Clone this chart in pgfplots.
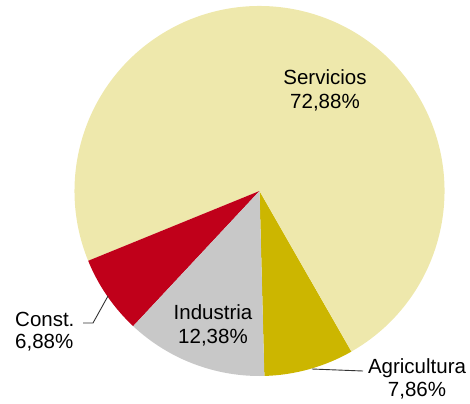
\documentclass[border=0pt]{standalone}
\usepackage{pgfplots}
\usepackage{pgfplotstable}
\pgfplotsset{compat=1.18}
\usepackage{fontspec}
\setmainfont{Liberation Sans}
\definecolor{cServ}{RGB}{238,232,172}
\definecolor{cAgri}{RGB}{204,182,0}
\definecolor{cCons}{RGB}{192,0,26}
\definecolor{cInd}{RGB}{200,200,200}
\pgfplotstableread{
label pct
Agricultura 7.86
Servicios 72.88
Const 6.88
Industria 12.38
}\piedata
\pgfplotstablegetelem{0}{pct}\of\piedata \let\pA\pgfplotsretval
\pgfplotstablegetelem{1}{pct}\of\piedata \let\pB\pgfplotsretval
\pgfplotstablegetelem{2}{pct}\of\piedata \let\pC\pgfplotsretval
\pgfplotstablegetelem{3}{pct}\of\piedata \let\pD\pgfplotsretval
\pgfmathsetmacro\aA{-88.5}
\pgfmathsetmacro\aB{\aA+3.6*\pA}
\pgfmathsetmacro\aC{\aB+3.6*\pB}
\pgfmathsetmacro\aD{\aC+3.6*\pC}
\pgfmathsetmacro\aE{\aD+3.6*\pD}
\newcommand\lbl{\fontsize{20.5bp}{24bp}\selectfont}
\begin{document}
\begin{tikzpicture}
\begin{axis}[x=1bp,y=1bp,xmin=0,xmax=470,ymin=0,ymax=403,
  hide axis,scale only axis,clip=false]
\coordinate (bbA) at (axis cs:0,0);
\coordinate (bbB) at (axis cs:470,403);
\fill[cAgri] (axis cs:259.5,212) -- ++(\aA:185bp) arc[start angle=\aA,end angle=\aB,radius=185bp] -- cycle;
\fill[cServ] (axis cs:259.5,212) -- ++(\aB:185bp) arc[start angle=\aB,end angle=\aC,radius=185bp] -- cycle;
\fill[cCons] (axis cs:259.5,212) -- ++(\aC:185bp) arc[start angle=\aC,end angle=\aD,radius=185bp] -- cycle;
\fill[cInd] (axis cs:259.5,212) -- ++(\aD:185bp) arc[start angle=\aD,end angle=\aE,radius=185bp] -- cycle;
% leader lines
\draw[black!80,line width=0.9bp] (axis cs:312,34) -- (axis cs:363,32);
\draw[black!80,line width=0.9bp] (axis cs:83,80) -- (axis cs:93,80) -- (axis cs:108,107);
% labels
\node[anchor=base,inner sep=0pt] at (axis cs:325,319) {\lbl Servicios};
\node[anchor=base,inner sep=0pt] at (axis cs:325,295) {\lbl 72,88\%};
\node[anchor=base,inner sep=0pt] at (axis cs:213,84) {\lbl Industria};
\node[anchor=base,inner sep=0pt] at (axis cs:213,60) {\lbl 12,38\%};
\node[anchor=base west,inner sep=0pt] at (axis cs:15,77) {\lbl Const.};
\node[anchor=base west,inner sep=0pt] at (axis cs:15,55) {\lbl 6,88\%};
\node[anchor=base,inner sep=0pt] at (axis cs:417,30) {\lbl Agricultura};
\node[anchor=base,inner sep=0pt] at (axis cs:417,7) {\lbl 7,86\%};
\end{axis}
\pgfresetboundingbox
\path (bbA) rectangle (bbB);
\end{tikzpicture}
\end{document}
